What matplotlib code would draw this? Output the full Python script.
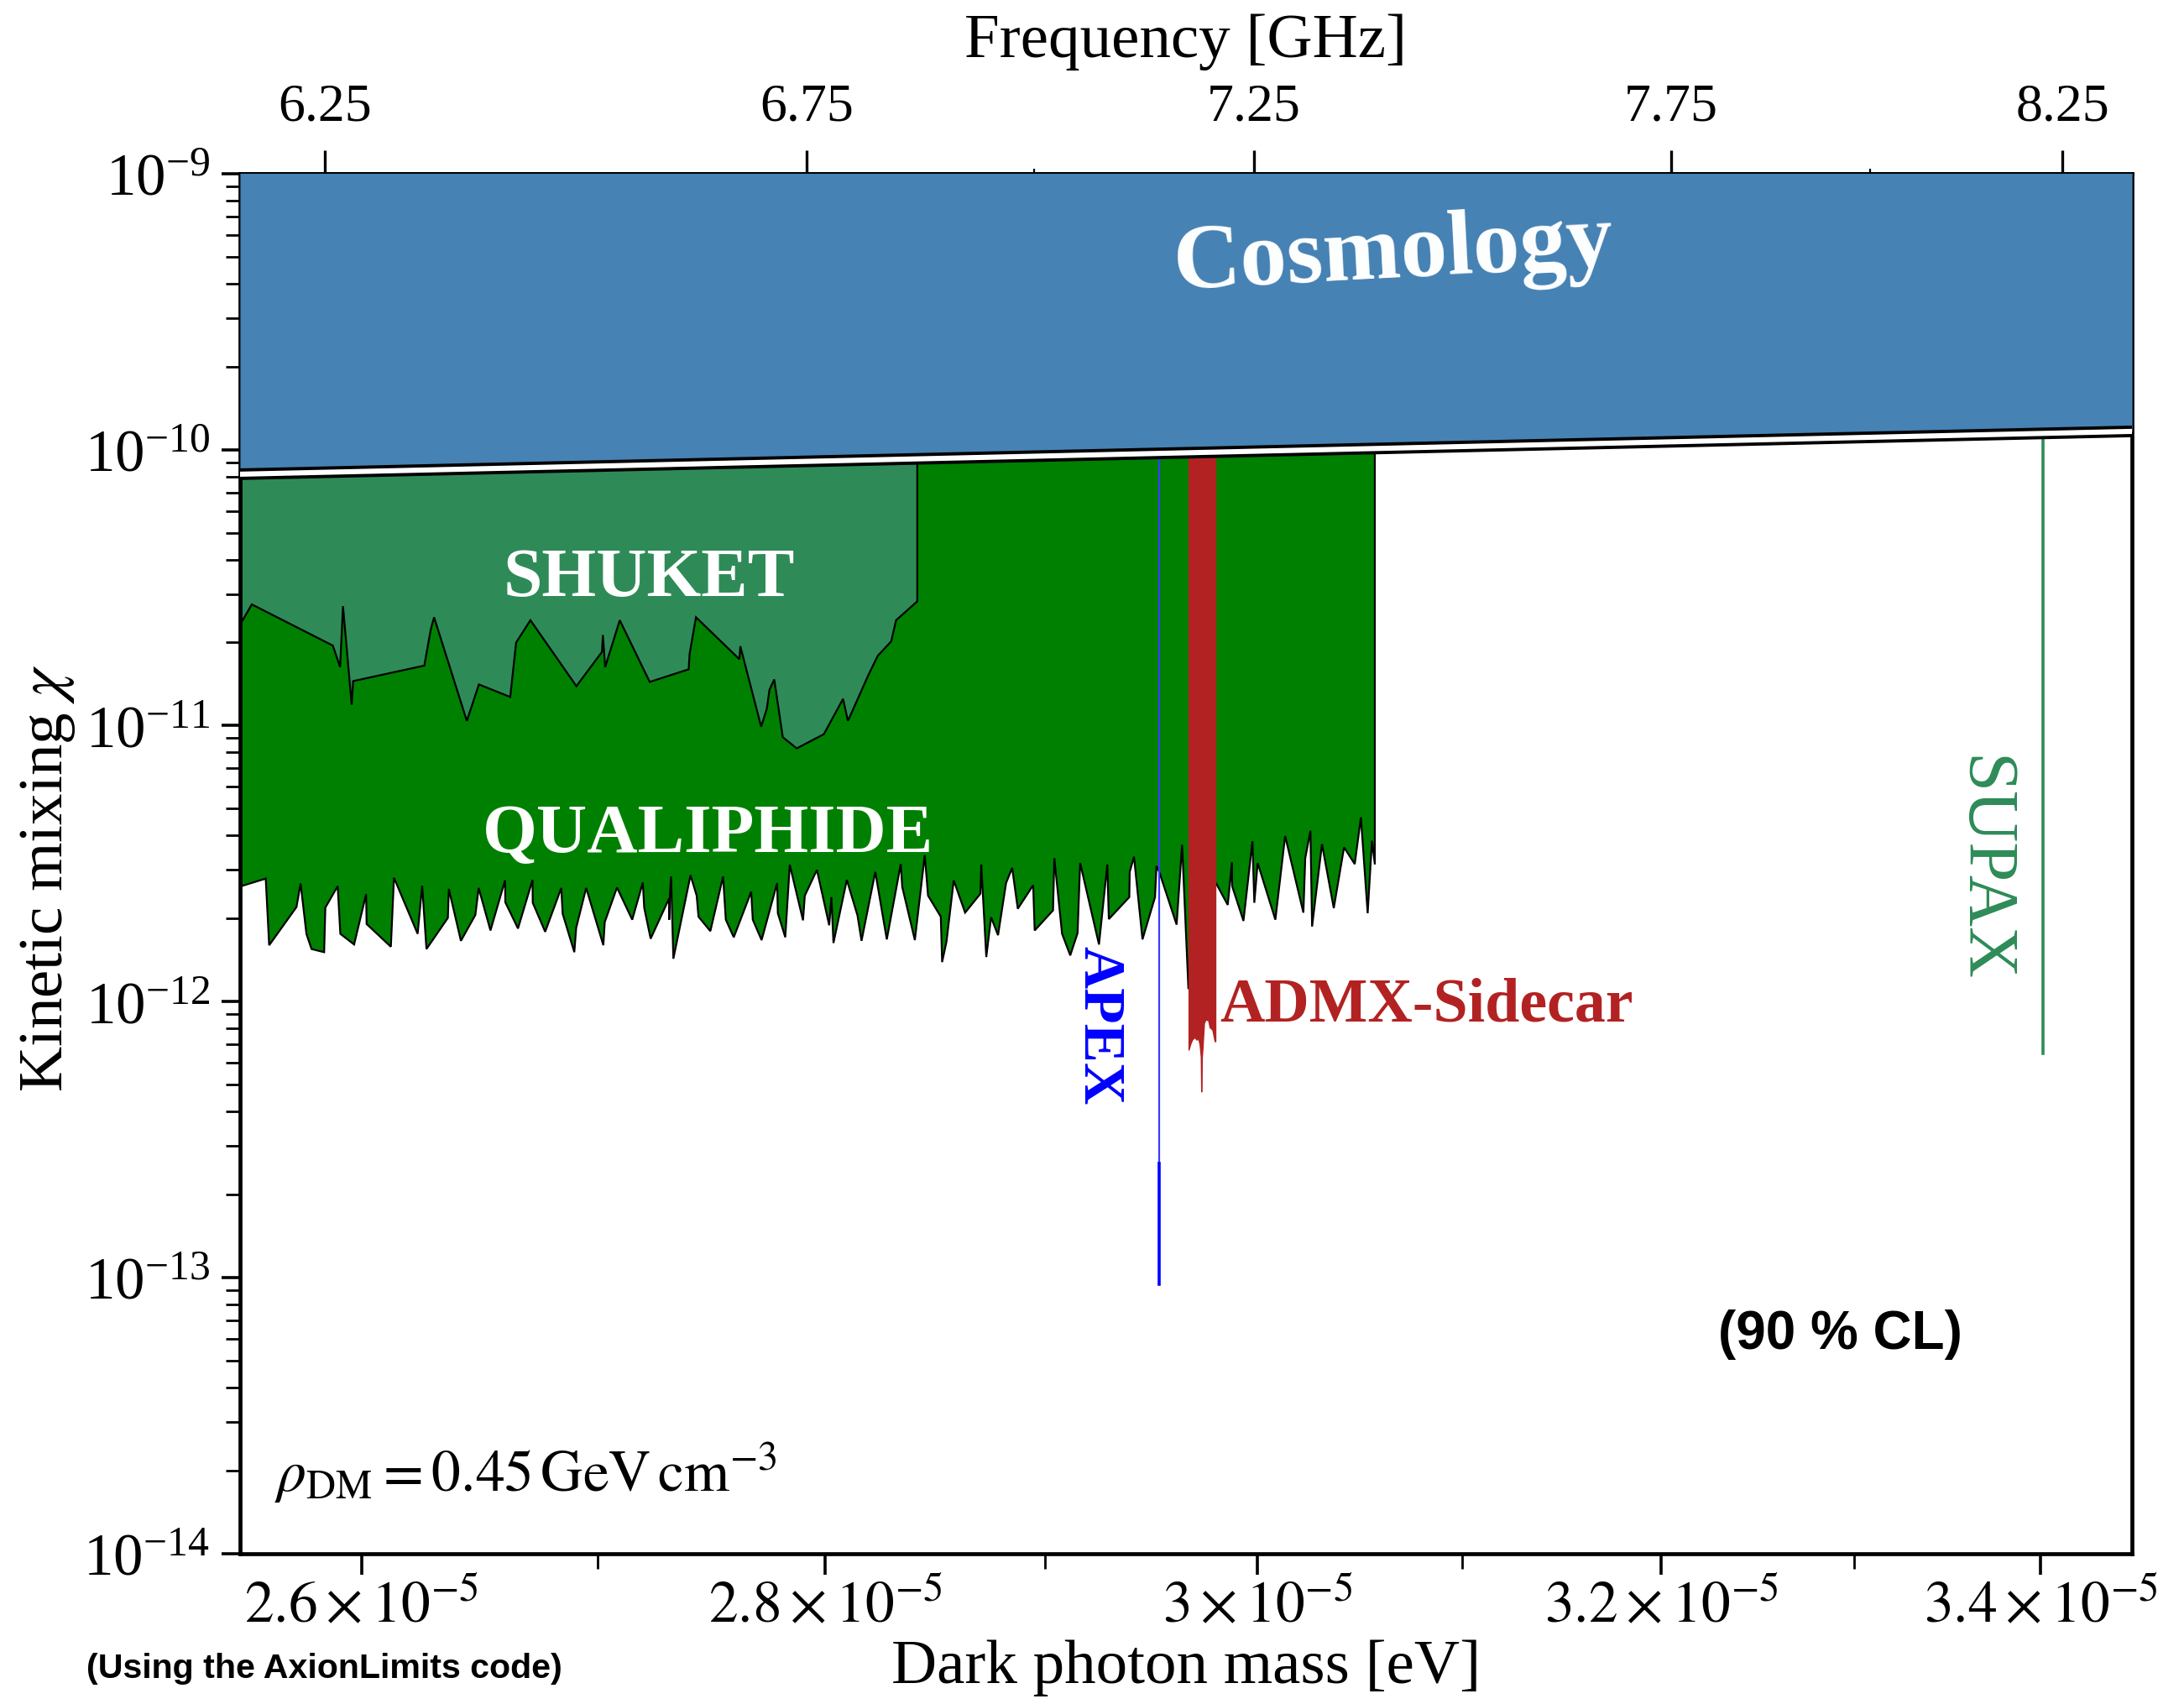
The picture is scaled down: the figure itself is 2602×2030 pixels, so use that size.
import matplotlib.pyplot as plt
import numpy as np
from matplotlib.ticker import NullFormatter

plt.rcParams['font.family'] = 'serif'
plt.rcParams['font.serif'] = ['Liberation Serif', 'DejaVu Serif']
plt.rcParams['mathtext.fontset'] = 'stix'

# QUALIPHIDE exclusion, lower edge (mass in 1e-5 eV, chi in 1e-12)
qual_m = [2.5505, 2.5605, 2.5619, 2.5731, 2.5748, 2.5772, 2.5793, 2.5845, 2.5850, 2.5901,
          2.5912, 2.5969, 2.6019, 2.6021, 2.6122, 2.6135, 2.6234, 2.6253, 2.6271, 2.6361,
          2.6365, 2.6416, 2.6477, 2.6491, 2.6541, 2.6603, 2.6604, 2.6658, 2.6720, 2.6721,
          2.6774, 2.6843, 2.6849, 2.6899, 2.6907, 2.6950, 2.7024, 2.7030, 2.7083, 2.7149,
          2.7195, 2.7201, 2.7229, 2.7309, 2.7310, 2.7312, 2.7318, 2.7328, 2.7403, 2.7430,
          2.7438, 2.7490, 2.7546, 2.7558, 2.7593, 2.7670, 2.7677, 2.7716, 2.7785, 2.7788,
          2.7821, 2.7841, 2.7900, 2.7908, 2.7962, 2.8017, 2.8027, 2.8036, 2.8096, 2.8144,
          2.8162, 2.8224, 2.8276, 2.8339, 2.8346, 2.8403, 2.8448, 2.8463, 2.8521, 2.8527,
          2.8547, 2.8580, 2.8632, 2.8702, 2.8706, 2.8729, 2.8751, 2.8783, 2.8820, 2.8848,
          2.8874, 2.8945, 2.8952, 2.9037, 2.9043, 2.9079, 2.9117, 2.9151, 2.9163, 2.9251,
          2.9290, 2.9297, 2.9393, 2.9395, 2.9415, 2.9455, 2.9514, 2.9521, 2.9534, 2.9616,
          2.9642, 2.9672, 2.9799, 2.9859, 2.9879, 2.9880, 2.9934, 2.9977, 2.9986, 3.0002,
          3.0087, 3.0134, 3.0222, 3.0231, 3.0256, 3.0264, 3.0312, 3.0369, 3.0419, 3.0471,
          3.0501, 3.0534, 3.0555, 3.0569]
qual_chi = [2.62, 2.79, 1.60, 2.20, 2.68, 1.76, 1.55, 1.51, 2.19, 2.62,
            1.76, 1.61, 2.45, 1.91, 1.58, 2.81, 1.76, 2.63, 1.55, 2.01,
            2.56, 1.66, 2.06, 2.58, 1.81, 2.75, 2.29, 1.84, 2.76, 2.28,
            1.79, 2.58, 2.08, 1.51, 1.85, 2.58, 1.60, 1.94, 2.59, 1.98,
            2.70, 2.19, 1.69, 2.36, 1.98, 2.36, 2.84, 1.43, 2.87, 2.42,
            2.03, 1.80, 2.84, 1.98, 1.71, 2.50, 1.98, 1.67, 2.69, 2.09,
            1.71, 3.13, 1.97, 2.42, 3.00, 1.89, 2.39, 1.63, 2.76, 2.05,
            1.66, 2.95, 1.68, 3.15, 2.60, 1.67, 3.39, 2.42, 2.03, 1.39,
            1.65, 2.75, 2.10, 2.46, 3.14, 1.45, 2.02, 1.74, 2.69, 3.05,
            2.17, 2.64, 1.81, 2.14, 3.31, 1.76, 1.47, 1.77, 3.18, 1.61,
            3.14, 1.99, 2.39, 2.95, 3.35, 1.68, 2.39, 3.10, 2.95, 1.90,
            3.70, 1.11, 2.72, 2.24, 3.20, 2.62, 1.96, 3.81, 2.28, 3.18,
            1.98, 3.98, 2.10, 3.31, 4.16, 1.87, 3.72, 2.18, 3.62, 3.15,
            4.65, 2.09, 3.83, 3.14]

# SHUKET exclusion, lower edge (mass in 1e-5 eV, chi in 1e-11)
shuket_m = [2.5505, 2.5548, 2.5881, 2.5911, 2.5923, 2.5959, 2.5965, 2.6262, 2.6289, 2.6303,
            2.6441, 2.6492, 2.6625, 2.6650, 2.6711, 2.6908, 2.7018, 2.7022, 2.7032, 2.7095,
            2.7225, 2.7395, 2.7399, 2.7427, 2.7618, 2.7622, 2.7714, 2.7739, 2.7751, 2.7772,
            2.7810, 2.7872, 2.7993, 2.8079, 2.8101, 2.8192, 2.8235, 2.8296, 2.8318, 2.8414]
shuket_chi = [2.36, 2.75, 1.95, 1.63, 2.71, 1.19, 1.45, 1.65, 2.23, 2.47,
              1.04, 1.41, 1.27, 2.00, 2.41, 1.39, 1.85, 2.13, 1.63, 2.41,
              1.44, 1.60, 1.82, 2.47, 1.74, 1.94, 0.991, 1.15, 1.35, 1.47,
              0.908, 0.827, 0.931, 1.25, 1.04, 1.52, 1.79, 2.02, 2.41, 2.82]

# ADMX-Sidecar (mass in 1e-5 eV, chi in 1e-13)
admx_m = [2.9673, 2.9681, 2.9689, 2.9701, 2.9711, 2.9717, 2.9725, 2.9731, 2.9733,
          2.9736, 2.9739, 2.9746, 2.9753, 2.9766, 2.9773, 2.9786, 2.9797, 2.9800]
admx_chi = [6.69, 7.02, 7.27, 7.43, 7.27, 7.41, 7.02, 6.32, 4.72,
            6.32, 6.77, 8.36, 8.60, 8.56, 8.07, 7.90, 7.18, 7.18]

# APEX and SUPAX single-frequency limits
apex_m = 2.9534e-5
apex_chi = [9.42e-14, 2.60e-13]
supax_m = 3.4011e-5
supax_chi = 6.47e-13

# cosmology bound
cosmo_m = [2.55e-5, 3.45e-5]
cosmo_chi = [8.15e-11, 1.165e-10]

mass_ticks = [2.6e-5, 2.8e-5, 3.0e-5, 3.2e-5, 3.4e-5]
mass_labels = [r'$2.6\times10^{-5}$', r'$2.8\times10^{-5}$', r'$3\times10^{-5}$',
               r'$3.2\times10^{-5}$', r'$3.4\times10^{-5}$']
mass_minor = [2.7e-5, 2.9e-5, 3.1e-5, 3.3e-5]
freq_ticks = [6.25, 6.75, 7.25, 7.75, 8.25]
freq_labels = ['6.25', '6.75', '7.25', '7.75', '8.25']

h_eVs = 4.135667e-15
top = 1e-9

fig = plt.figure(figsize=(13.01, 10.155), dpi=200)
ax = fig.add_axes([0.1099, 0.0883, 0.8663, 0.8093])
ax.set_xscale('log')
ax.set_yscale('log')
ax.set_xlim(2.55e-5, 3.45e-5)
ax.set_ylim(1e-14, 1e-9)

qm = np.array(qual_m) * 1e-5
qc = np.array(qual_chi) * 1e-12
ax.fill(np.r_[qm, qm[-1], qm[0]], np.r_[qc, top, top],
        facecolor='green', edgecolor='k', lw=0.8, zorder=1)

sm = np.array(shuket_m) * 1e-5
sc = np.array(shuket_chi) * 1e-11
ax.fill(np.r_[sm, sm[-1], sm[0]], np.r_[sc, top, top],
        facecolor='seagreen', edgecolor='k', lw=0.8, zorder=1.2)

ax.plot([apex_m, apex_m], [apex_chi[1], top], color='#3b3bff', lw=0.8, zorder=1.5)
ax.plot([apex_m, apex_m], apex_chi, color='blue', lw=1.3, zorder=1.5)

ax.fill_between(np.array(admx_m) * 1e-5, np.array(admx_chi) * 1e-13, top,
                facecolor='firebrick', edgecolor='firebrick', lw=0.5, zorder=1.6)

ax.plot([supax_m, supax_m], [supax_chi, top], color='seagreen', lw=1.3, zorder=1.5)

ax.fill_between(cosmo_m, cosmo_chi, 1e-8, color='steelblue', lw=0, zorder=3)
ax.plot(cosmo_m, cosmo_chi, color='k', lw=5.0, zorder=4)
ax.plot(cosmo_m, cosmo_chi, color='w', lw=2.2, zorder=4)

# labels on the plot
ax.text(3.066e-5, 5.11e-10, 'Cosmology', color='w', fontsize=40, fontweight='bold',
        rotation=3, ha='center', va='center', rotation_mode='anchor', zorder=6)
ax.text(2.7223e-5, 2.97e-11, 'SHUKET', color='w', fontsize=30, fontweight='bold',
        ha='center', va='baseline', zorder=6)
ax.text(2.7479e-5, 3.51e-12, 'QUALIPHIDE', color='w', fontsize=30, fontweight='bold',
        ha='center', va='baseline', zorder=6)
ax.text(2.982e-5, 8.53e-13, 'ADMX-Sidecar', color='firebrick', fontsize=26.6,
        fontweight='bold', ha='left', va='baseline', zorder=6)
ax.text(2.9249e-5, 8.24e-13, 'APEX', color='blue', fontsize=25, fontweight='bold',
        rotation=-90, ha='center', va='center', zorder=6)
ax.text(3.368e-5, 3.04e-12, 'SUPAX', color='seagreen', fontsize=30.5,
        rotation=-90, ha='center', va='center', zorder=6)
ax.text(0.0184, 0.0454, r'$\rho_{\rm DM} = 0.45\,{\rm GeV\,cm}^{-3}$',
        transform=ax.transAxes, fontsize=25, va='baseline')
ax.text(0.8456, 0.1594, '(90 % CL)', transform=ax.transAxes, fontsize=23,
        fontweight='bold', family='Liberation Sans', ha='center', va='center')
fig.text(0.0395, 0.021, '(Using the AxionLimits code)', fontsize=14.8,
         fontweight='bold', family='Liberation Sans', ha='left', va='center')

# axes styling
ax.set_xticks(mass_ticks, labels=mass_labels)
ax.set_xticks(mass_minor, minor=True)
ax.xaxis.set_minor_formatter(NullFormatter())
ax.tick_params(axis='x', which='major', direction='out', length=9, width=1.3,
               labelsize=25, pad=2, top=False)
ax.tick_params(axis='x', which='minor', direction='out', length=6.5, width=1.0, top=False)
ax.tick_params(axis='y', which='major', direction='out', length=8, width=1.3,
               labelsize=25.5, pad=5, right=False)
ax.tick_params(axis='y', which='minor', direction='out', length=6, width=1.0, right=False)
for sp in ax.spines.values():
    sp.set_linewidth(1.7)

ax.set_xlabel('Dark photon mass [eV]', fontsize=27)
ax.xaxis.set_label_coords(0.5, -0.062)
ax.set_ylabel(r'Kinetic mixing $\chi$', fontsize=27)
ax.yaxis.set_label_coords(-0.086, 0.49)

secax = ax.secondary_xaxis('top', functions=(lambda m: m / h_eVs / 1e9,
                                             lambda f: f * h_eVs * 1e9))
secax.set_xticks(freq_ticks, labels=freq_labels)
secax.xaxis.set_minor_formatter(NullFormatter())
secax.tick_params(which='major', direction='out', length=10, width=1.2,
                  labelsize=23, pad=8)
secax.tick_params(which='minor', direction='out', length=2, width=0.8)
secax.spines['top'].set_linewidth(1.7)
secax.set_xlabel('Frequency [GHz]', fontsize=27)
secax.xaxis.set_label_coords(0.5, 1.085, transform=ax.transAxes)

plt.savefig('out.png', dpi=200)
